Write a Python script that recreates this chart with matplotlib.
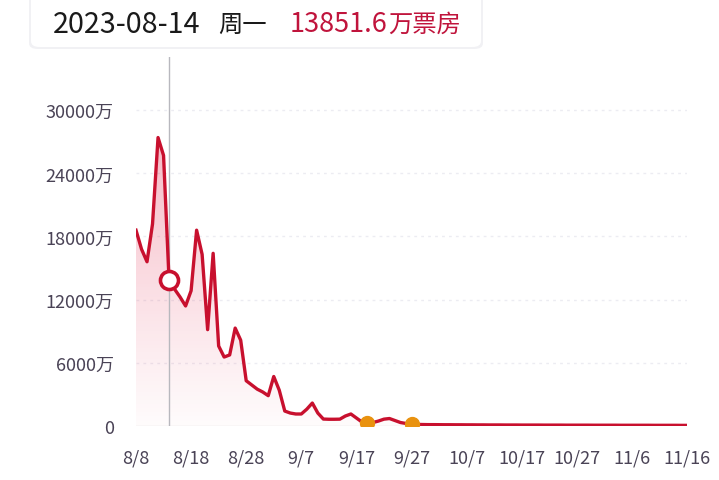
import matplotlib
matplotlib.use("Agg")
import matplotlib.pyplot as plt
import numpy as np
from matplotlib.patches import FancyBboxPatch, Polygon

plt.rcParams['font.family'] = ['Noto Sans CJK SC', 'DejaVu Sans']

# ---- data (daily box office, 万) from 8/8 to 11/16 ----
days = list(range(101))
values = [
    18600, 16800, 15600, 19200, 27400, 25700, 13851.6, 13000, 12250, 11400,
    12850, 18600, 16300, 9150, 16400, 7600, 6550, 6750, 9300, 8150,
    4300, 3900, 3500, 3230, 2880, 4700, 3400, 1420, 1230, 1140,
    1140, 1600, 2180, 1230, 660, 640, 640, 650, 950, 1140,
    760, 380, 290, 330, 470, 650, 710, 520, 330, 240,
    190, 150, 140, 130, 130, 125, 120, 120, 115, 115,
    110, 110, 105, 105, 100, 100, 100, 95, 95, 95,
    90, 90, 90, 90, 85, 85, 85, 85, 80, 80,
    80, 80, 80, 75, 75, 75, 75, 75, 70, 70,
    70, 70, 70, 70, 65, 65, 65, 65, 65, 60,
    60,
]
tick_days = [0, 10, 20, 30, 40, 50, 60, 70, 80, 90, 100]
tick_labels = ['8/8', '8/18', '8/28', '9/7', '9/17', '9/27', '10/7', '10/17', '10/27', '11/6', '11/16']
y_ticks = [0, 6000, 12000, 18000, 24000, 30000]
y_labels = ['0', '6000万', '12000万', '18000万', '24000万', '30000万']
selected_day = 6
header_date = '2023-08-14'
header_weekday = '周一'
header_value = '13851.6'
header_unit = '万票房'
orange_days = [42, 50]

W, H = 719, 481
fig = plt.figure(figsize=(W / 100, H / 100), dpi=100)
fig.patch.set_facecolor('white')

left, right = 136 / W, 687 / W
bottom, top = (H - 427) / H, (H - 58) / H
ax = fig.add_axes([left, bottom, right - left, top - bottom])
ax.set_xlim(0, 100)
ax.set_ylim(0, 35050)
ax.set_facecolor('none')

line_col = '#c8102e'
x = np.array(days, dtype=float)
y = np.array(values, dtype=float)

# gradient fill
grad = np.linspace(0, 1, 256).reshape(-1, 1)
cmap_rgba = np.zeros((256, 1, 4))
cmap_rgba[..., 0] = 0.90
cmap_rgba[..., 1] = 0.22
cmap_rgba[..., 2] = 0.36
cmap_rgba[..., 3] = 0.02 + 0.34 * grad[:, :] ** 1.1
im = ax.imshow(cmap_rgba, extent=[0, 100, 0, 28000], origin='lower', aspect='auto', zorder=1)
verts = np.vstack([np.column_stack([x, y]), [[x[-1], 0], [x[0], 0]]])
poly = Polygon(verts, closed=True, facecolor='none', edgecolor='none')
ax.add_patch(poly)
im.set_clip_path(poly)

# grid
for yt in y_ticks[1:]:
    ax.axhline(yt, color='#ececf2', lw=1.0, ls=(0, (2, 3)), zorder=0)
ax.axhline(0, color='#e6e6ea', lw=1.0, zorder=0)

# vertical cursor line
ax.axvline(selected_day, color='#b8b8be', lw=1.0, zorder=2)

ax.plot(x, y, color=line_col, lw=2.4, zorder=3, solid_joinstyle='round')
ax.plot([selected_day], [values[selected_day]], 'o', ms=13, mfc='white', mec=line_col, mew=2.6, zorder=5)
ax.plot(orange_days, [values[d] for d in orange_days], 'o', ms=10, color='#e9920f', mec='#e9920f', zorder=4)

for s in ax.spines.values():
    s.set_visible(False)
ax.set_xticks(tick_days)
ax.set_xticklabels(tick_labels)
ax.set_yticks(y_ticks)
ax.set_yticklabels(y_labels)
ax.tick_params(axis='both', length=0, colors='#4a4356', labelsize=13)
ax.tick_params(axis='y', pad=16)
ax.tick_params(axis='x', pad=16)

# header box
shadow = FancyBboxPatch((29 / W, (H - 50) / H), 454 / W, 60 / H,
                        boxstyle='round,pad=0,rounding_size=0.012',
                        transform=fig.transFigure, facecolor='#e9e9ee', edgecolor='none', alpha=0.6, zorder=0)
fig.patches.append(shadow)
box = FancyBboxPatch((31 / W, (H - 48) / H), 450 / W, 60 / H,
                     boxstyle='round,pad=0,rounding_size=0.012',
                     transform=fig.transFigure, facecolor='white', edgecolor='none', zorder=1)
fig.patches.append(box)
ty = (H - 25) / H
fig.text(53 / W, ty, header_date, fontsize=20.7, color='#1a1a1a', va='center', ha='left')
fig.text(218 / W, ty, header_weekday, fontsize=17.5, color='#1a1a1a', va='center', ha='left')
tv = fig.text(290 / W, ty, header_value, fontsize=19.5, color='#c0143c', va='center', ha='left')
fig.text(0, 0, header_unit, fontsize=17.5, color='#c0143c', va='center', ha='left')
unit = fig.texts[-1]
unit.remove()
fig.add_artist(plt.Annotation(header_unit, xy=(1.0, 0.5), xycoords=tv, xytext=(0.5, 0),
                              textcoords='offset points', fontsize=17.5, color='#c0143c',
                              va='center', ha='left'))

fig.savefig('out.png', dpi=100, facecolor='white')
